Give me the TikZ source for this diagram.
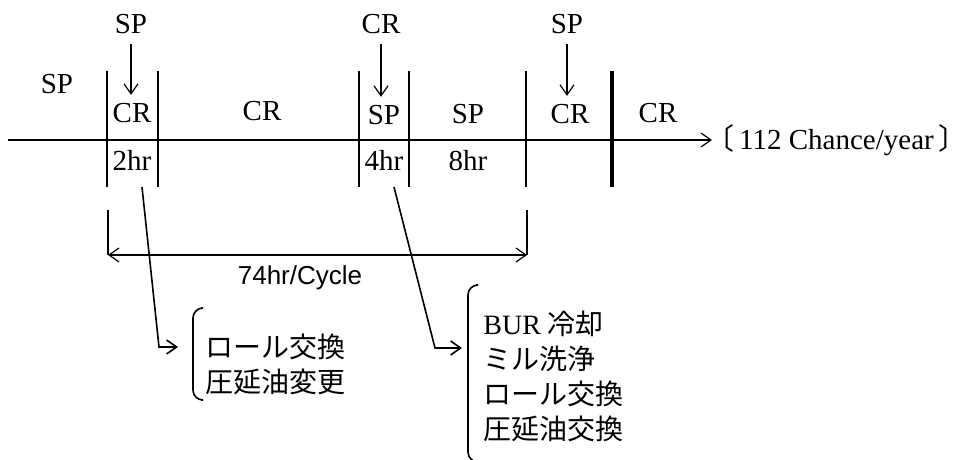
\documentclass[tikz,border=0pt]{standalone}
\usepackage{fontspec}
\setmainfont{Liberation Serif}
\newfontfamily\jpfont{Noto Sans CJK JP}
\newfontfamily\dimfont{Liberation Sans}
\usetikzlibrary{arrows.meta}

\begin{document}
\begin{tikzpicture}[
  x=0.5pt, y=-0.5pt,
  font=\fontsize{14.5}{17.5}\selectfont,
  lbl/.style={inner sep=0pt},
  note/.style={inner sep=0pt, anchor=west, align=left, font=\fontsize{14}{17.5}\selectfont\jpfont},
  bar/.style={line width=1pt},
  arrow/.style={line width=0.6pt, -{Straight Barb[length=5pt,width=7pt]}},
  lead/.style={line width=0.8pt, -{Straight Barb[length=5pt,width=7pt]}},
  bracket/.style={line width=0.8pt, rounded corners=5pt}
]
\useasboundingbox (0,0) rectangle (971,460);

% time line
\coordinate (tl0) at (8,140);
\coordinate (tl1) at (712,140);
\draw[arrow] (tl0) -- (tl1);
\foreach \x/\w in {107/1pt, 158/1pt, 359/1pt, 409/1pt, 526/1pt, 612/1.6pt}
  \draw[line width=\w] (\x,71) -- (\x,187);

% segment labels
\node[lbl] (sp0) at (57,84) {SP};
\node[lbl] (cr1) at (132,113) {CR};
\node[lbl] (h2) at (132,160) {2hr};
\node[lbl] (cr2) at (262,111) {CR};
\node[lbl] (sp1) at (384,115) {SP};
\node[lbl] (h4) at (384,160) {4hr};
\node[lbl] (sp2) at (468,114) {SP};
\node[lbl] (h8) at (468,161) {8hr};
\node[lbl] (cr3) at (570,114) {CR};
\node[lbl] (cr4) at (658,113) {CR};
\node[lbl, anchor=west] (chance) at (705,140) {{\jpfont 〔}\,112 Chance/year\,{\jpfont 〕}};

% change points
\node[lbl] (topA) at (131,24) {SP};
\node[lbl] (topB) at (381,24) {CR};
\node[lbl] (topC) at (567,24) {SP};
\draw[arrow] ([yshift=-5pt]topA.south) -- ([yshift=4pt]topA.south |- cr1.north);
\draw[arrow] ([yshift=-5pt]topB.south) -- ([yshift=4pt]topB.south |- sp1.north);
\draw[arrow] ([yshift=-5pt]topC.south) -- ([yshift=4pt]topC.south |- cr3.north);

% cycle length
\coordinate (dimL) at (108,255);
\coordinate (dimR) at (527,255);
\draw[line width=0.8pt] (108,210) -- (dimL);
\draw[line width=0.8pt] (527,210) -- (dimR);
\draw[line width=0.6pt, {Straight Barb[length=5pt,width=7pt]}-{Straight Barb[length=5pt,width=7pt]}] (dimL) -- (dimR);
\node[lbl, font=\fontsize{13}{15}\selectfont\dimfont] (cycle) at (300,278) {74hr/Cycle};

% work items
\node[note] (work1) at (205,364.5) {ロール交換\\圧延油変更};
\node[note] (work2) at (483,376.5) {{\rmfamily BUR} 冷却\\ミル洗浄\\ロール交換\\圧延油交換};
\draw[bracket] (201,308) -- (193,308) -- (193,400) -- (201,400);
\draw[bracket] (476,285) -- (468,285) -- (468,462) -- (476,462);

\coordinate (bend1) at (159,347);
\coordinate (tip1) at (178,347);
\coordinate (bend2) at (435,348);
\coordinate (tip2) at (462,348);
\draw[lead] (142,187) -- (bend1) -- (tip1);
\draw[lead] (394,187) -- (bend2) -- (tip2);
\end{tikzpicture}
\end{document}
